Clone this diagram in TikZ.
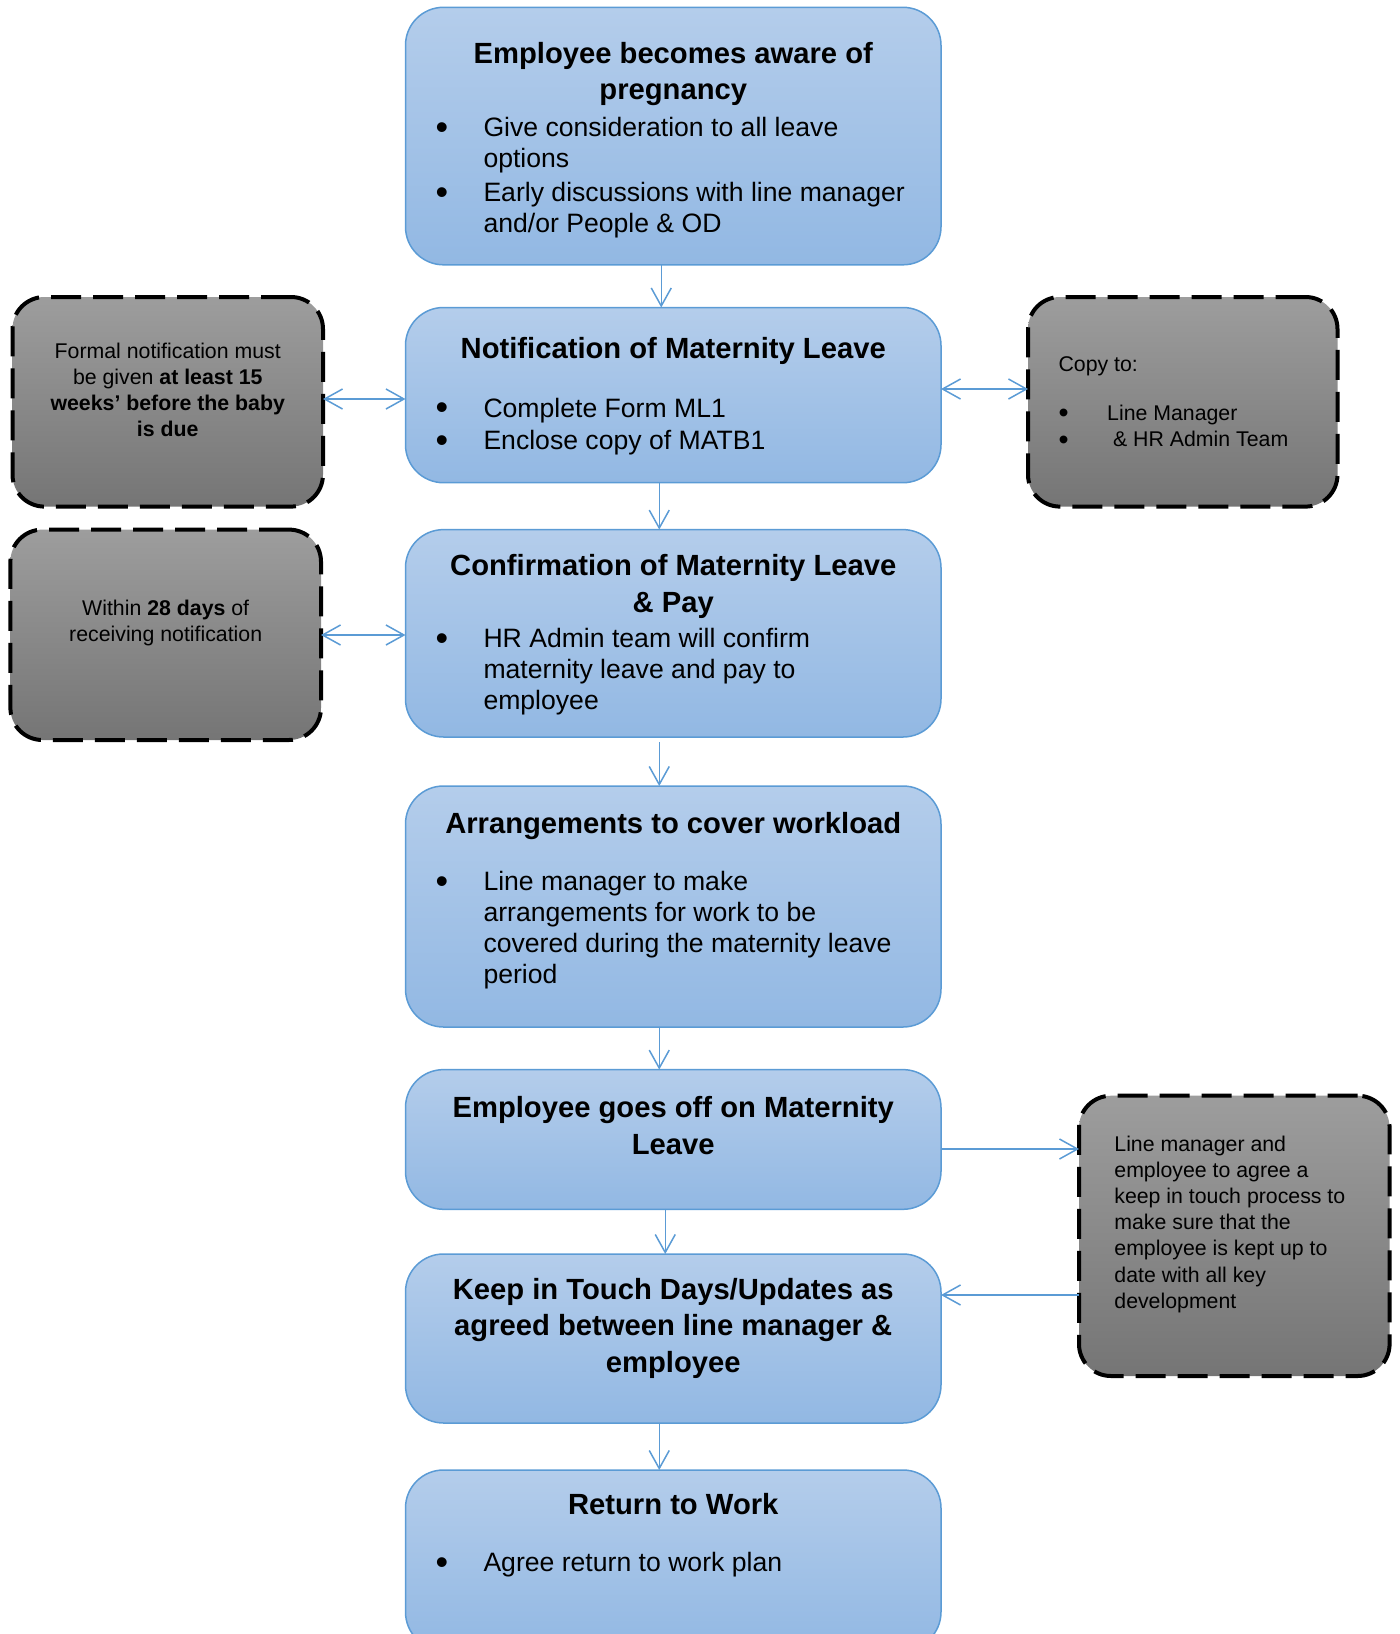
\documentclass[tikz,border=0pt]{standalone}
\usepackage{fontspec}
\usepackage{graphicx}
\setmainfont{Liberation Sans}
\usetikzlibrary{arrows.meta}
\definecolor{stageline}{RGB}{91,155,213}
\definecolor{stagetop}{RGB}{180,205,235}
\definecolor{stagebottom}{RGB}{146,184,227}
\definecolor{notetop}{RGB}{157,157,157}
\definecolor{notebottom}{RGB}{117,117,117}
\newcommand{\bigbullet}{\raisebox{-1.3pt}{\scalebox{1.35}{\textbullet}}}
\newcommand{\stagehead}[1]{{\fontsize{14.6}{18.25}\selectfont\bfseries\centering\strut#1\par}}
\newcommand{\stagebul}[1]{{\fontsize{13.3}{15.4}\selectfont\noindent\hangindent=39pt\hangafter=1%
  \makebox[39pt][l]{\hspace{15pt}\bigbullet}#1\par}}
\newcommand{\notefont}{\fontsize{10.65}{13.1}\selectfont}
\tikzset{
  stagebox/.style={draw=stageline, line width=.75pt, rounded corners=19pt,
    top color=stagetop, bottom color=stagebottom,
    anchor=north west, inner sep=0pt, outer sep=0pt},
  notebox/.style={draw=black, line width=2pt, dash pattern=on 15pt off 6pt,
    rounded corners=16pt, top color=notetop, bottom color=notebottom,
    anchor=north west, inner sep=0pt, outer sep=0pt},
  flowarrow/.style={draw=stageline, line width=.75pt}
}
\begin{document}
\begin{tikzpicture}[x=0.5pt, y=-0.5pt, >={Straight Barb[length=9pt,width=10pt]}]
\useasboundingbox (0,0) rectangle (1399,1634);

% steps of the leave
\node[stagebox] (aware) at (405.5,7.3) {\parbox[c][128.75pt][t]{267.75pt}{\vspace*{15.3pt}
  \stagehead{Employee becomes aware of\\pregnancy}\vspace{3.1pt}
  \stagebul{Give consideration to all leave\\options}\vspace{1.5pt}
  \stagebul{Early discussions with line manager\\and/or People \& OD}}};
\node[stagebox] (notify) at (405.5,307.5) {\parbox[c][87.6pt][t]{267.75pt}{\vspace*{12.9pt}
  \stagehead{Notification of Maternity Leave}\vspace{13.8pt}
  \stagebul{Complete Form ML1}\vspace{0.8pt}
  \stagebul{Enclose copy of MATB1}}};
\node[stagebox] (confirm) at (405.5,529.6) {\parbox[c][103.7pt][t]{267.75pt}{\vspace*{10.4pt}
  \stagehead{Confirmation of Maternity Leave\\\& Pay}\vspace{2.3pt}
  \stagebul{HR Admin team will confirm\\maternity leave and pay to\\employee}}};
\node[stagebox] (cover) at (405.5,786) {\parbox[c][120.5pt][t]{267.75pt}{\vspace*{10.9pt}
  \stagehead{Arrangements to cover workload}\vspace{13.3pt}
  \stagebul{Line manager to make\\arrangements for work to be\\covered during the maternity leave\\period}}};
\node[stagebox] (off) at (405.5,1069.6) {\parbox[c][69.85pt][t]{267.75pt}{\vspace*{11.4pt}
  \stagehead{Employee goes off on Maternity\\Leave}}};
\node[stagebox] (kit) at (405.5,1254) {\parbox[c][84.5pt][t]{267.75pt}{\vspace*{9.9pt}
  \stagehead{Keep in Touch Days/Updates as\\agreed between line manager \&\\employee}}};
\node[stagebox] (back) at (405.5,1470) {\parbox[c][90pt][t]{267.75pt}{\vspace*{9.3pt}
  \stagehead{Return to Work}\vspace{13.3pt}
  \stagebul{Agree return to work plan}}};

% side notes
\node[notebox] (notice) at (12.5,297) {\parbox[c][104.8pt][t]{155.25pt}{\vspace*{21.5pt}
  \notefont\centering\strut Formal notification must\\be given \textbf{at least 15}\\
  \textbf{weeks' before the baby}\\\textbf{is due}\par}};
\node[notebox] (copy) at (1028,297) {\parbox[c][104.8pt][t]{154.75pt}{\vspace*{28.2pt}
  \notefont\leftskip=15.3pt\strut Copy to:\par\vspace{11.1pt}
  \noindent\makebox[24.3pt][l]{\bigbullet}Line Manager\par\vspace{0.2pt}
  \noindent\makebox[24.3pt][l]{\bigbullet}\ \& HR Admin Team\par}};
\node[notebox] (within) at (10.4,529.6) {\parbox[c][105.2pt][t]{155.3pt}{\vspace*{33.6pt}
  \notefont\centering\strut Within \textbf{28 days} of\\receiving notification\par}};
\node[notebox] (touch) at (1079,1095.7) {\parbox[c][140.15pt][t]{155.3pt}{\vspace*{18.5pt}
  \notefont\leftskip=17.7pt\strut Line manager and\\employee to agree a\\keep in touch process to\\
  make sure that the\\employee is kept up to\\date with all key\\development\par}};

% connectors
\draw[flowarrow,->] ([xshift=-6pt]aware.south) -- ([xshift=-6pt]notify.north);
\draw[flowarrow,->] ([xshift=-7pt]notify.south) -- ([xshift=-7pt]confirm.north);
\draw[flowarrow,->] ([xshift=-7pt,yshift=-2.5pt]confirm.south) -- ([xshift=-7pt]cover.north);
\draw[flowarrow,->] ([xshift=-7pt]cover.south) -- ([xshift=-7pt]off.north);
\draw[flowarrow,->] ([xshift=-4pt]off.south) -- ([xshift=-4pt]kit.north);
\draw[flowarrow,->] ([xshift=-7pt]kit.south) -- ([xshift=-7pt]back.north);
\draw[flowarrow,<->] (notice.east |- 0,399) -- (notify.west |- 0,399);
\draw[flowarrow,<->] (notify.east |- 0,389) -- (copy.west |- 0,389);
\draw[flowarrow,<->] (within.east |- 0,635) -- (confirm.west |- 0,635);
\draw[flowarrow,->] (off.east |- 0,1149) -- (touch.west |- 0,1149);
\draw[flowarrow,->] (touch.west |- 0,1295) -- (kit.east |- 0,1295);
\end{tikzpicture}
\end{document}
